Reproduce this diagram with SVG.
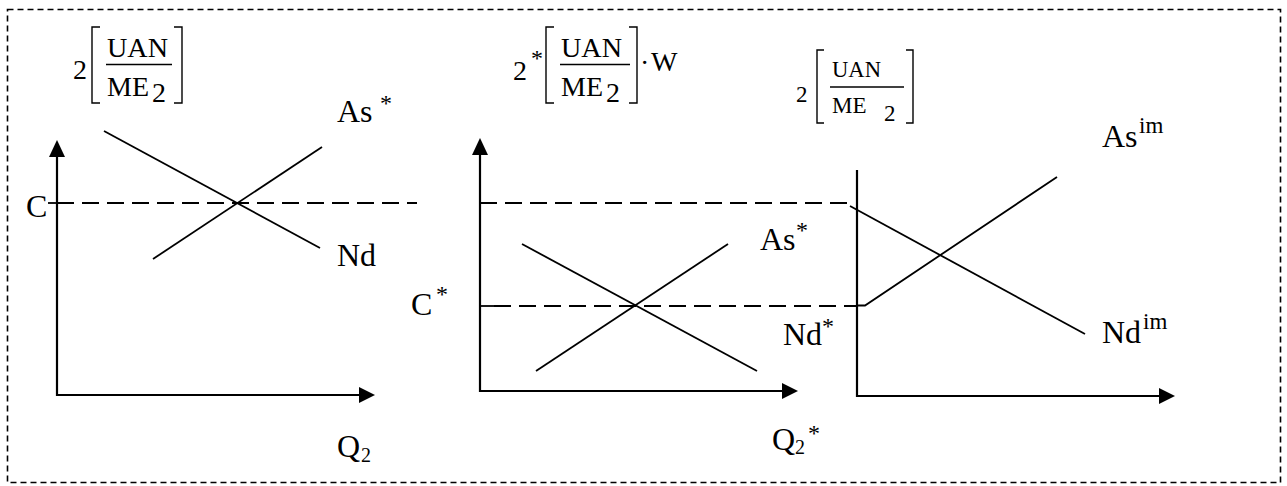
<svg xmlns="http://www.w3.org/2000/svg" width="1287" height="486" viewBox="0 0 1287 486">
<style>
text{font-family:"Liberation Serif","Times New Roman",serif;fill:#000}
.lbl{font-size:32px}
.sup{font-size:24px}
.supim{font-size:23px}
.sub{font-size:20px}
.f{font-size:28px}
.fs{font-size:23px}
.ax{stroke:#000;stroke-width:2.2;fill:none}
.cv{stroke:#000;stroke-width:1.8;fill:none}
.dash{stroke:#000;stroke-width:1.8;fill:none;stroke-dasharray:17 8}
.br{stroke:#000;stroke-width:1.4;fill:none}
.ah{fill:#000}
</style>
<rect x="7.5" y="9.5" width="1273" height="473" fill="none" stroke="#000" stroke-width="1.6" stroke-dasharray="6 4"/>

<g id="formula1">
<text class="f" x="73" y="79">2</text>
<path class="br" d="M100 27H92V103H100"/>
<path class="br" d="M174 27H182V103H174"/>
<text class="f" x="107" y="57" textLength="61" lengthAdjust="spacingAndGlyphs">UAN</text>
<line x1="106" y1="64.5" x2="172" y2="64.5" stroke="#000" stroke-width="1.5"/>
<text class="f" x="107" y="96">ME</text>
<text class="f" x="152" y="102">2</text>
</g>

<g id="formula2">
<text class="f" x="513" y="80">2</text>
<text class="sup" x="531" y="66">*</text>
<path class="br" d="M554 27H546V103H554"/>
<path class="br" d="M629 27H637V103H629"/>
<text class="f" x="561" y="57" textLength="61" lengthAdjust="spacingAndGlyphs">UAN</text>
<line x1="560" y1="64.5" x2="630" y2="64.5" stroke="#000" stroke-width="1.5"/>
<text class="f" x="561" y="96">ME</text>
<text class="f" x="606" y="102">2</text>
<text class="f" x="640" y="72">·</text>
<text class="f" x="651" y="71">W</text>
</g>

<g id="formula3">
<text class="fs" x="796" y="102">2</text>
<path class="br" d="M824 50H817V123H824"/>
<path class="br" d="M906 50H913V123H906"/>
<text class="fs" x="832" y="77" textLength="49" lengthAdjust="spacingAndGlyphs">UAN</text>
<line x1="830" y1="87" x2="904" y2="87" stroke="#000" stroke-width="1.5"/>
<text class="fs" x="832" y="113">ME</text>
<text class="fs" x="884" y="121">2</text>
</g>

<g id="axes">
<g id="panel1-axes">
<polyline class="ax" points="57,152 57,395 365,395"/>
<polygon class="ah" points="57,140 49,157 65,157"/>
<polygon class="ah" points="375,395 359,387 359,403"/>
</g>
<g id="panel2-axes">
<polyline class="ax" points="480,150 480,391 788,391"/>
<polygon class="ah" points="480,138 472,155 488,155"/>
<polygon class="ah" points="798,391 782,383 782,399"/>
</g>
<g id="panel3-axes">
<polyline class="ax" points="857,170 857,396 1165,396"/>
<polygon class="ah" points="1175,396 1159,388 1159,404"/>
</g>
</g>

<g id="connectors">
<line class="cv" x1="48" y1="203" x2="57" y2="203"/>
<line class="dash" x1="57" y1="203" x2="417" y2="203"/>
<line class="cv" x1="104" y1="131" x2="320" y2="248"/>
<line class="cv" x1="153" y1="259" x2="322" y2="147"/>

<line class="dash" x1="480" y1="203" x2="850" y2="203"/>
<line class="cv" x1="480" y1="306" x2="494" y2="306"/>
<line class="dash" x1="494" y1="306" x2="857" y2="306"/>
<line class="cv" x1="522" y1="244" x2="757" y2="371"/>
<line class="cv" x1="536" y1="371" x2="728" y2="244"/>

<line class="cv" x1="850" y1="206" x2="1085" y2="334"/>
<polyline class="cv" points="857,305.5 865,305.5 1057,177"/>
</g>

<g id="labels">
<text class="lbl" x="337" y="122">As</text><text class="sup" x="380" y="111">*</text>
<text class="lbl" x="337" y="266">Nd</text>
<text class="lbl" x="26" y="217">C</text>
<text class="lbl" x="337" y="457">Q</text><text class="sub" x="361" y="462">2</text>

<text class="lbl" x="760" y="250">As</text><text class="sup" x="796" y="238">*</text>
<text class="lbl" x="783" y="345">Nd</text><text class="sup" x="822" y="334">*</text>
<text class="lbl" x="411" y="315">C</text><text class="sup" x="436" y="302">*</text>
<text class="lbl" x="772" y="450">Q</text><text class="sub" x="795" y="454">2</text><text class="sup" x="808" y="441">*</text>

<text class="lbl" x="1102" y="147">As</text><text class="supim" x="1139" y="133">im</text>
<text class="lbl" x="1102" y="343">Nd</text><text class="supim" x="1143" y="329">im</text>
</g>
</svg>
